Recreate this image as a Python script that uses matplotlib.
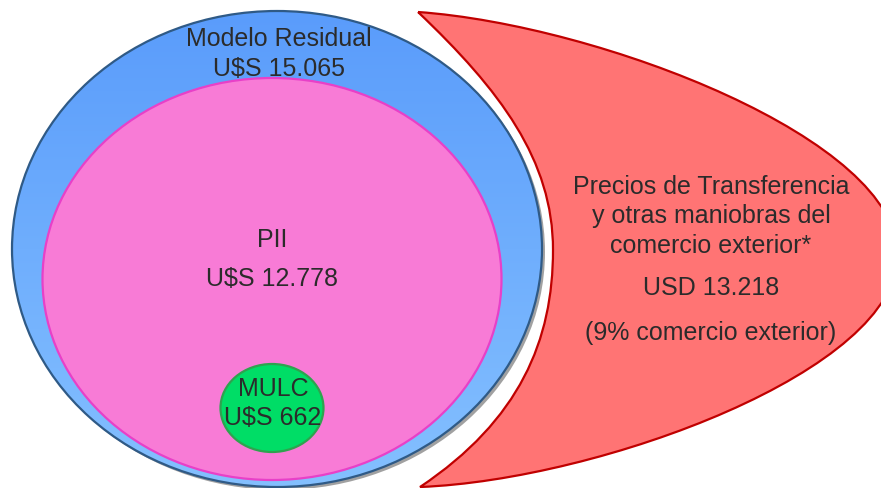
import numpy as np
import matplotlib
matplotlib.use("Agg")
import matplotlib.pyplot as plt
from matplotlib.patches import Ellipse, PathPatch
from matplotlib.path import Path

plt.rcParams['font.family'] = ['Liberation Sans', 'DejaVu Sans']

# Labels and values shown in the diagram
outer_label = ["Modelo Residual", "U$S 15.065"]
pii_label = ["PII", "U$S 12.778"]
mulc_label = ["MULC", "U$S 662"]
red_lines = ["Precios de Transferencia", "y otras maniobras del", "comercio exterior*"]
red_value = "USD 13.218"
red_share = "(9% comercio exterior)"

TEXT = "#2b2b2b"

fig = plt.figure(figsize=(8.81, 4.88), dpi=100)
ax = fig.add_axes([0, 0, 1, 1])
ax.set_xlim(0, 881)
ax.set_ylim(488, 0)
ax.axis("off")

# shadow under the blue ellipse
shadow = Ellipse((280, 252), 530, 476, facecolor="#555555", edgecolor="none", alpha=0.55, zorder=1)
ax.add_patch(shadow)

# blue outer ellipse with vertical gradient
blue = Ellipse((277, 249), 530, 476, facecolor="none", edgecolor="#2f5a86", lw=1.6, zorder=3)
ax.add_patch(blue)
grad = np.linspace(0, 1, 256).reshape(-1, 1)
cmap = matplotlib.colors.LinearSegmentedColormap.from_list("b", ["#5a9cfb", "#84c0ff"])
im = ax.imshow(grad, cmap=cmap, extent=[12, 542, 488, 11], aspect="auto", zorder=2)
im.set_clip_path(blue)

# pink ellipse
ax.add_patch(Ellipse((272, 279), 459, 402, facecolor="#f87bd6", edgecolor="#e840c8", lw=1.6, zorder=4))

# green ellipse
ax.add_patch(Ellipse((272, 408), 103, 88, facecolor="#00dd66", edgecolor="#2ea34f", lw=1.6, zorder=5))

# red crescent
verts = [
    (418, 12),
    (600, 25), (900, 140), (897, 255),
    (900, 370), (600, 480), (420, 487),
    (520, 420), (553, 340), (553, 250),
    (553, 160), (500, 90), (418, 12),
]
codes = [Path.MOVETO] + [Path.CURVE4] * 12
ax.add_patch(PathPatch(Path(verts, codes), facecolor="#ff7474", edgecolor="#c00000", lw=1.6, zorder=3))

fs = 18
ax.text(279, 39, outer_label[0], ha="center", va="center", fontsize=fs, color=TEXT, zorder=6)
ax.text(279, 69, outer_label[1], ha="center", va="center", fontsize=fs, color=TEXT, zorder=6)
ax.text(272, 240, pii_label[0], ha="center", va="center", fontsize=fs, color=TEXT, zorder=6)
ax.text(272, 279, pii_label[1], ha="center", va="center", fontsize=fs, color=TEXT, zorder=6)
ax.text(273, 389, mulc_label[0], ha="center", va="center", fontsize=fs, color=TEXT, zorder=6)
ax.text(273, 418, mulc_label[1], ha="center", va="center", fontsize=fs, color=TEXT, zorder=6)

for i, line in enumerate(red_lines):
    ax.text(711, 187 + i * 29.5, line, ha="center", va="center", fontsize=fs, color=TEXT, zorder=6)
ax.text(711, 288, red_value, ha="center", va="center", fontsize=fs, color=TEXT, zorder=6)
ax.text(711, 333, red_share, ha="center", va="center", fontsize=fs, color=TEXT, zorder=6)

fig.savefig("out.png", dpi=100)
